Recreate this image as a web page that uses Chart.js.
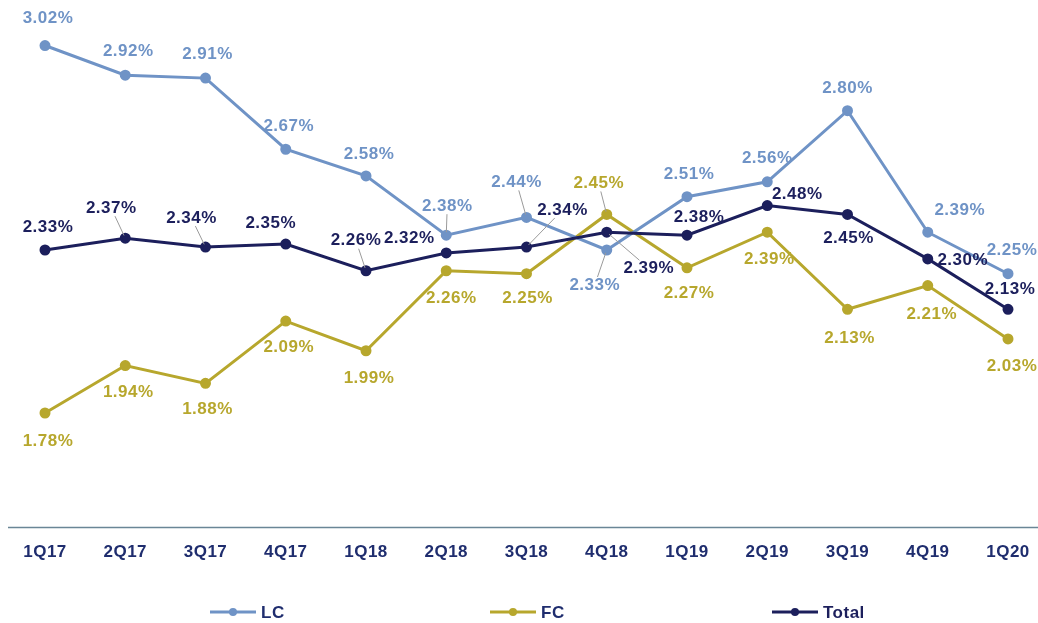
<!DOCTYPE html>
<html>
<head>
<meta charset="utf-8">
<style>
  html, body { margin: 0; padding: 0; background: #ffffff; }
  #wrap { width: 1038px; height: 623px; position: relative; }
</style>
<script src="https://cdn.jsdelivr.net/npm/chart.js@4.4.1/dist/chart.umd.min.js"></script>
</head>
<body>
<div id="wrap"><canvas id="c" width="1038" height="623"></canvas></div>
<script>
// ---- data ----
const categories = ['1Q17','2Q17','3Q17','4Q17','1Q18','2Q18','3Q18','4Q18','1Q19','2Q19','3Q19','4Q19','1Q20'];
const lcValues    = [3.02, 2.92, 2.91, 2.67, 2.58, 2.38, 2.44, 2.33, 2.51, 2.56, 2.80, 2.39, 2.25];
const fcValues    = [1.78, 1.94, 1.88, 2.09, 1.99, 2.26, 2.25, 2.45, 2.27, 2.39, 2.13, 2.21, 2.03];
const totalValues = [2.33, 2.37, 2.34, 2.35, 2.26, 2.32, 2.34, 2.39, 2.38, 2.48, 2.45, 2.30, 2.13];
const seriesNames = ['LC', 'FC', 'Total'];

// ---- styles ----
const COLORS = { LC: '#6f93c6', FC: '#b7a72d', Total: '#1c1f5c' };
const FONT = "'Liberation Sans', Arial, Helvetica, sans-serif";
const SPACING = '0.5px';

// label placement (dx, dy from point to label centre; leader = draw pointer line)
const labelLayout = {
  LC: [[3,-27],[3,-24],[2,-24],[3,-23],[3,-22],[1,-29,1],[-10,-35,1],[-12,35,1],[2,-22],[0,-24],[0,-22],[32,-22],[4,-23]],
  FC: [[3,28],[3,27],[2,26],[3,26],[3,28],[5,28],[1,25],[-8,-31,1],[2,26],[2,27],[2,29],[4,29],[4,27]],
  Total: [[3,-23],[-14,-30,1],[-14,-29,1],[-15,-21],[-10,-30,1],[-37,-15],[36,-37,1],[42,36,1],[12,-18],[30,-11],[1,24],[35,1],[2,-20]]
};

const spacingPlugin = {
  id: 'letterSpacing',
  beforeInit(chart) { chart.ctx.letterSpacing = SPACING; },
  beforeUpdate(chart) { chart.ctx.letterSpacing = SPACING; },
  beforeDraw(chart) { chart.ctx.letterSpacing = SPACING; }
};

const axisLinePlugin = {
  id: 'axisLine',
  beforeDatasetsDraw(chart) {
    const { ctx, chartArea } = chart;
    ctx.save();
    ctx.strokeStyle = '#6a8696';
    ctx.lineWidth = 1.5;
    ctx.beginPath();
    ctx.moveTo(8, chartArea.bottom + 2);
    ctx.lineTo(chart.width, chartArea.bottom + 2);
    ctx.stroke();
    ctx.restore();
  }
};

const labelPlugin = {
  id: 'valueLabels',
  afterDatasetsDraw(chart) {
    const ctx = chart.ctx;
    ctx.save();
    ctx.letterSpacing = SPACING;
    ctx.font = 'bold 17px ' + FONT;
    ctx.textAlign = 'center';
    ctx.textBaseline = 'middle';
    chart.data.datasets.forEach((ds, di) => {
      const meta = chart.getDatasetMeta(di);
      const layout = labelLayout[ds.label];
      meta.data.forEach((pt, i) => {
        const [dx, dy, leader] = layout[i];
        const lx = pt.x + dx, ly = pt.y + dy;
        const txt = ds.data[i].toFixed(2) + '%';
        if (leader) {
          const w = ctx.measureText(txt).width / 2 + 1, h = 8;
          const vx = pt.x - lx, vy = pt.y - ly;
          const t = Math.min(Math.abs(vx) > 0 ? w / Math.abs(vx) : 99, Math.abs(vy) > 0 ? h / Math.abs(vy) : 99);
          const ex = lx + vx * t, ey = ly + vy * t;
          const len = Math.hypot(vx, vy);
          ctx.strokeStyle = '#9a9a9a';
          ctx.lineWidth = 1;
          ctx.beginPath();
          ctx.moveTo(pt.x - vx / len * 3, pt.y - vy / len * 3);
          ctx.lineTo(ex, ey);
          ctx.stroke();
        }
        ctx.fillStyle = ds.borderColor;
        ctx.fillText(txt, lx, ly);
      });
    });
    ctx.restore();
  }
};

const legendPlugin = {
  id: 'customLegend',
  afterDraw(chart) {
    const ctx = chart.ctx;
    const starts = [210, 490, 772];
    const y = 612;
    ctx.save();
    ctx.letterSpacing = SPACING;
    ctx.font = 'bold 17px ' + FONT;
    ctx.textBaseline = 'middle';
    ctx.textAlign = 'left';
    chart.data.datasets.forEach((ds, di) => {
      const x0 = starts[di];
      ctx.strokeStyle = ds.borderColor;
      ctx.lineWidth = 3;
      ctx.beginPath();
      ctx.moveTo(x0, y);
      ctx.lineTo(x0 + 46, y);
      ctx.stroke();
      ctx.fillStyle = ds.borderColor;
      ctx.beginPath();
      ctx.arc(x0 + 23, y, 4, 0, Math.PI * 2);
      ctx.fill();
      ctx.fillStyle = ds.label === 'Total' ? '#1c1f5c' : '#1f2d6e';
      ctx.fillText(ds.label, x0 + 51, y + 1);
    });
    ctx.restore();
  }
};

function makeDataset(name, values, order) {
  return {
    label: name,
    data: values,
    borderColor: COLORS[name],
    backgroundColor: COLORS[name],
    pointBackgroundColor: COLORS[name],
    pointBorderColor: COLORS[name],
    borderWidth: 3,
    pointRadius: 4,
    pointHoverRadius: 4,
    tension: 0,
    fill: false,
    order: order
  };
}

new Chart(document.getElementById('c'), {
  type: 'line',
  data: {
    labels: categories,
    datasets: [
      makeDataset(seriesNames[0], lcValues, 1),
      makeDataset(seriesNames[1], fcValues, 2),
      makeDataset(seriesNames[2], totalValues, 0)
    ]
  },
  options: {
    responsive: false,
    animation: false,
    devicePixelRatio: 1,
    layout: { padding: { left: 45, right: 30, top: 7, bottom: 43 } },
    plugins: {
      legend: { display: false },
      tooltip: { enabled: false },
      title: { display: false }
    },
    scales: {
      x: {
        type: 'category',
        offset: false,
        grid: { display: false, drawTicks: false },
        border: { display: false },
        afterFit(scale) { scale.paddingLeft = 0; scale.paddingRight = 0; },
        ticks: {
          color: '#1f2d6e',
          font: { family: FONT, size: 17, weight: 'bold' },
          padding: 17,
          maxRotation: 0,
          autoSkip: false
        }
      },
      y: {
        display: false,
        min: 1.4,
        max: 3.15
      }
    }
  },
  plugins: [spacingPlugin, axisLinePlugin, labelPlugin, legendPlugin]
});
</script>
</body>
</html>
